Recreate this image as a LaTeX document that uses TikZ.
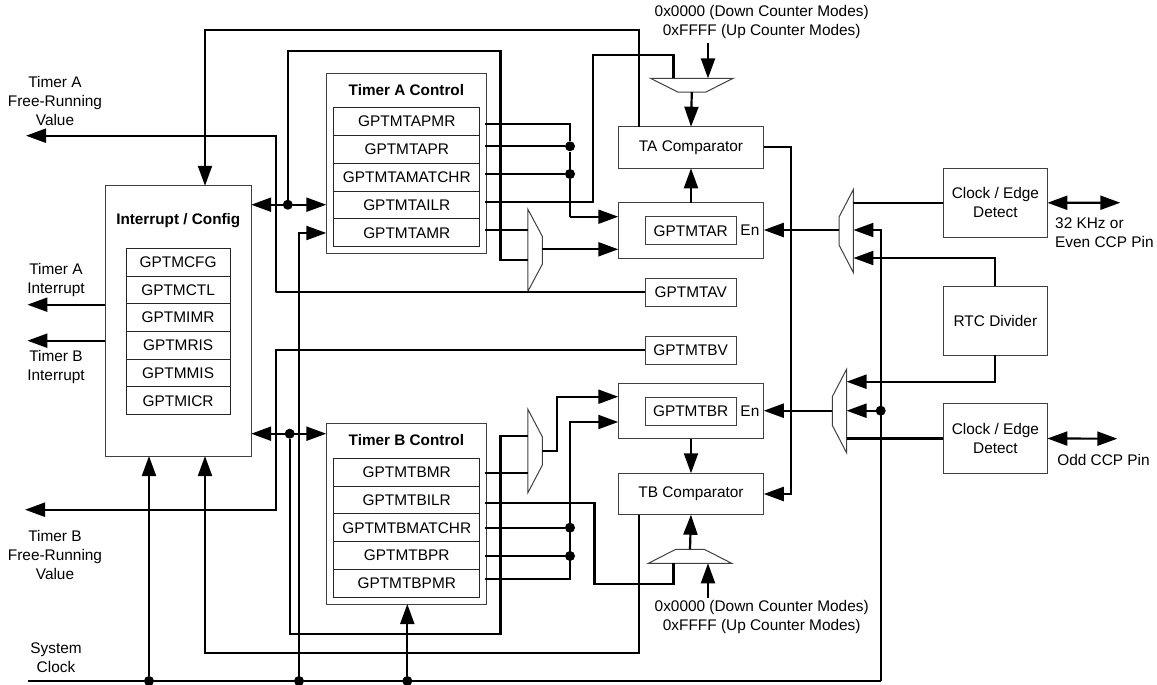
\documentclass[tikz,border=0pt]{standalone}
\usepackage{fontspec}
\setmainfont{Liberation Sans}
\usetikzlibrary{shapes.geometric, arrows.meta, positioning}

\begin{document}
\begin{tikzpicture}[x=1pt, y=-1pt, node distance=0pt,
			>={Triangle[length=20pt, width=14pt]},
			font=\fontsize{15.4}{19}\selectfont,
			box/.style={rectangle, draw=black!75, line width=1pt, inner sep=0pt, outer sep=0pt, align=center},
			reg/.style={box, line width=1.1pt, draw=black!85},
			rega/.style={reg, minimum width=146pt, minimum height=27.8pt},
			regi/.style={reg, minimum width=104pt, minimum height=27.7pt},
			vreg/.style={box, minimum width=90.6pt, minimum height=28pt},
			block/.style={box, minimum width=145.5pt},
			mux/.style={trapezium, draw=black!75, line width=1pt, inner sep=.5pt, outer sep=0pt, trapezium stretches=true, trapezium angle=46},
			lbl/.style={align=center, inner sep=0pt},
			title/.style={lbl, font=\fontsize{15.3}{19}\selectfont\bfseries},
			wire/.style={line width=2.2pt},
			dot/.style={circle, fill=black, inner sep=0pt, minimum size=10pt}]

			\useasboundingbox (0,0) rectangle (1157,685);

			\node[box, minimum width=145.8pt, minimum height=270.3pt] (icfg) at (178.3,320.9) {};
			\node[title] (icfgt) at (178.3,221) {Interrupt / Config};
			\node[regi] (cfg) at (178.1,262.2) {GPTMCFG};
			\node[regi, below=of cfg] (ctl) {GPTMCTL};
			\node[regi, below=of ctl] (imr) {GPTMIMR};
			\node[regi, below=of imr] (ris) {GPTMRIS};
			\node[regi, below=of ris] (mis) {GPTMMIS};
			\node[regi, below=of mis] (icr) {GPTMICR};

			\node[box, minimum width=160.2pt, minimum height=180pt] (ctla) at (406.4,163.3) {};
			\node[title] (ctlat) at (406.4,90) {Timer A Control};
			\node[rega] (tapmr) at (406.75,121.6) {GPTMTAPMR};
			\node[rega, below=of tapmr] (tapr) {GPTMTAPR};
			\node[rega, below=of tapr] (tamatch) {GPTMTAMATCHR};
			\node[rega, below=of tamatch] (tailr) {GPTMTAILR};
			\node[rega, below=of tailr] (tamr) {GPTMTAMR};

			\node[box, minimum width=160.2pt, minimum height=180.3pt] (ctlb) at (406.4,513.9) {};
			\node[title] (ctlbt) at (406.4,440) {Timer B Control};
			\node[rega] (tbmr) at (406.75,472.2) {GPTMTBMR};
			\node[rega, below=of tbmr] (tbilr) {GPTMTBILR};
			\node[rega, below=of tbilr] (tbmatch) {GPTMTBMATCHR};
			\node[rega, below=of tbmatch] (tbpr) {GPTMTBPR};
			\node[rega, below=of tbpr] (tbpmr) {GPTMTBPMR};

			\node[block, minimum height=41.6pt] (tacmp) at (691,147.5) {TA Comparator};
			\node[block, minimum height=55.6pt] (tar) at (691,230.5) {};
			\node[vreg] (tarr) at (690.7,230.7) {GPTMTAR};
			\node[lbl] (tarn) at (749.9,230) {En};
			\node[vreg] (tav) at (690.7,292.2) {GPTMTAV};
			\node[vreg] (tbv) at (690.7,350.2) {GPTMTBV};
			\node[block, minimum height=55.7pt] (tbr) at (691,410.9) {};
			\node[vreg] (tbrr) at (690.7,411) {GPTMTBR};
			\node[lbl] (tbrn) at (749.9,410.7) {En};
			\node[block, minimum height=41.4pt] (tbcmp) at (691,494) {TB Comparator};

			\node[box, minimum width=104pt, minimum height=69pt] (edgea) at (995.4,202.8) {Clock / Edge\\Detect};
			\node[box, minimum width=104pt, minimum height=69.3pt] (rtc) at (995.4,320.7) {RTC Divider};
			\node[box, minimum width=104pt, minimum height=69.6pt] (edgeb) at (995.4,438.5) {Clock / Edge\\Detect};

			\node[mux, shape border rotate=180, minimum width=82.4pt, minimum height=13.7pt] (mxt) at (691.8,85.2) {};
			\node[mux, minimum width=83.3pt, minimum height=14pt] (mxu) at (690,556.3) {};
			\node[mux, shape border rotate=270, minimum width=82pt, minimum height=14.4pt] (mxa) at (535.1,250.3) {};
			\node[mux, shape border rotate=270, minimum width=83.4pt, minimum height=14.4pt] (mxb) at (535.1,451) {};
			\node[mux, shape border rotate=90, minimum width=83.4pt, minimum height=14.3pt] (mxe) at (846.3,231) {};
			\node[mux, shape border rotate=90, minimum width=83.4pt, minimum height=14.3pt] (mxf) at (839.4,411) {};

			\node[lbl] (tafree) at (55,101) {Timer A\\Free-Running\\Value};
			\node[lbl] (taint) at (56,280.5) {Timer A\\Interrupt};
			\node[lbl] (tbint) at (56,367.5) {Timer B\\Interrupt};
			\node[lbl] (tbfree) at (55,554.5) {Timer B\\Free-Running\\Value};
			\node[lbl] (sysclk) at (56,657.5) {System\\Clock};
			\node[lbl] (ctop) at (761.7,22.5) {0x0000 (Down Counter Modes)\\0xFFFF (Up Counter Modes)};
			\node[lbl] (cbot) at (761.7,617) {0x0000 (Down Counter Modes)\\0xFFFF (Up Counter Modes)};
			\node[lbl, align=left, anchor=west] (pina) at (1055,233) {32 KHz or\\Even CCP Pin};
			\node[lbl] (pinb) at (1103.5,460) {Odd CCP Pin};

			\node[dot] (dloopa) at (287.8,204.7) {};
			\node[dot] (dloopb) at (289.7,433.7) {};
			\node[dot] (dapr) at (570,146.3) {};
			\node[dot] (damatch) at (570,174) {};
			\node[dot] (dbmatch) at (570,527.7) {};
			\node[dot] (dbpr) at (570,556) {};
			\node[dot] (drtc) at (880.7,410.7) {};
			\node[dot] (dclki) at (149,681) {};
			\node[dot] (dclkm) at (299,681) {};
			\node[dot] (dclkb) at (407.3,681) {};

			\coordinate (topl) at (205,29.7);
			\coordinate (topr) at (638.9,29.7);
			\coordinate (loopa) at (287.8,50.7);
			\coordinate (loopc) at (500.5,260);
			\coordinate (loopd) at (500.5,634.3);
			\coordinate (loope) at (500.5,436);
			\coordinate (modeb) at (299,233);
			\coordinate (freea) at (26,135.7);
			\coordinate (freeb) at (25,509.7);
			\coordinate (frees) at (276.3,292.3);
			\coordinate (pa1) at (485.4,123.7);
			\coordinate (pa2) at (485.4,146.3);
			\coordinate (pa3) at (485.4,174);
			\coordinate (pa4) at (485.4,202);
			\coordinate (pa5) at (485.4,230);
			\coordinate (pb1) at (485.4,473.3);
			\coordinate (pb2) at (485.4,502.7);
			\coordinate (pb3) at (485.4,527.7);
			\coordinate (pb4) at (485.4,556);
			\coordinate (pb5) at (485.4,579);
			\coordinate (ina1) at (570,216.7);
			\coordinate (ina2) at (542.3,249.3);
			\coordinate (outb) at (542.3,450.7);
			\coordinate (inb1) at (556.9,396.7);
			\coordinate (inb2) at (570,422);
			\coordinate (ilra) at (593.1,55.3);
			\coordinate (ilrb) at (594.4,584.3);
			\coordinate (tapa) at (673.4,78.3);
			\coordinate (tapb) at (673.4,563.3);
			\coordinate (cmpa) at (790.9,146.7);
			\coordinate (cmpb) at (790.9,494);
			\coordinate (cina) at (708,43.3);
			\coordinate (cinb) at (708,597.7);
			\coordinate (clka) at (28,681);
			\coordinate (clkb) at (880.7,681);
			\coordinate (rtca) at (994.7,258);
			\coordinate (rtcb) at (994.7,381.7);
			\coordinate (ena) at (880.7,230);
			\coordinate (iota) at (1120.3,202.7);
			\coordinate (iotb) at (1117.3,438.7);
			\coordinate (inta) at (27.4,304.7);
			\coordinate (intb) at (27.4,340.7);
			\coordinate (bot) at (205,653.3);

			\draw[wire, ->] (tacmp.north -| topr) -- (topr) -- (topl) -- (topl |- icfg.north);
			\draw[wire, <->] (icfg.east |- dloopa) -- (ctla.west |- dloopa);
			\draw[wire] (dloopa) -- (loopa) -| (loopc) -- (loopc -| mxa.west);
			\draw[wire, ->] (clkb -| dclkm) -- (modeb) -- (modeb -| ctla.west);
			\draw[wire, ->] (tav.west) -| (frees) |- (freea);
			\draw[wire] (pa1) -| (dapr) -- (damatch) -- (ina1);
			\draw[wire, ->] (ina1) -- (ina1 -| tar.west);
			\draw[wire] (pa2) -- (dapr);
			\draw[wire] (pa3) -- (damatch);
			\draw[wire] (pa4) -| (ilra) -| (tapa);
			\draw[wire] (pa5) -- (pa5 -| mxa.west);
			\draw[wire, ->] (ina2) -- (ina2 -| tar.west);
			\draw[wire, ->] (cina) -- (cina |- mxt.north);
			\draw[wire, ->] (mxt.south) -- (tacmp.north);
			\draw[wire, ->] (tar.north) -- (tacmp.south);
			\draw[wire, ->] (cmpa -| tacmp.east) -- (cmpa) -- (cmpb) -- (tbcmp.east);
			\draw[wire, ->] (ena -| mxe.west) -- (tar.east |- ena);
			\draw[wire] (edgea.west) -- (edgea.west -| mxe.east);
			\draw[wire, <->] (edgea.east) -- (iota);
			\draw[wire, ->] (clkb) -- (ena) -- (ena -| mxe.east);
			\draw[wire, ->] (rtc.north -| rtca) -- (rtca) -- (rtca -| mxe.east);
			\draw[wire, ->] (rtc.south -| rtcb) -- (rtcb) -- (rtcb -| mxf.east);
			\draw[wire, ->] (drtc) -- (drtc -| mxf.east);
			\draw[wire, ->] (drtc -| mxf.west) -- (drtc -| tbr.east);
			\draw[wire] (edgeb.west) -- (edgeb.west -| mxf.east);
			\draw[wire, <->] (edgeb.east) -- (iotb);
			\draw[wire, ->] (outb) -| (inb1) -- (inb1 -| tbr.west);
			\draw[wire, ->] (pb5) -| (inb2) -- (inb2 -| tbr.west);
			\draw[wire] (pb3) -- (dbmatch);
			\draw[wire] (pb4) -- (dbpr);
			\draw[wire] (pb2) -| (ilrb) -| (tapb);
			\draw[wire] (pb1) -- (pb1 -| mxb.west);
			\draw[wire] (dloopb) |- (loopd) -- (loope) -- (loope -| mxb.west);
			\draw[wire, <->] (icfg.east |- dloopb) -- (ctlb.west |- dloopb);
			\draw[wire, ->] (tbcmp.south -| topr) |- (bot) -- (bot |- icfg.south);
			\draw[wire] (clka) -- (clkb);
			\draw[wire, ->] (dclki) -- (dclki |- icfg.south);
			\draw[wire, ->] (dclkb) -- (ctlb.south -| dclkb);
			\draw[wire, ->] (tbv.west) -| (freeb -| frees) -- (freeb);
			\draw[wire, ->] (mxu.north) -- (tbcmp.south);
			\draw[wire, ->] (cinb) -- (cinb |- mxu.south);
			\draw[wire, ->] (tbr.south) -- (tbcmp.north);
			\draw[wire, ->] (icfg.west |- inta) -- (inta);
			\draw[wire, ->] (icfg.west |- intb) -- (intb);
		\end{tikzpicture}
\end{document}
